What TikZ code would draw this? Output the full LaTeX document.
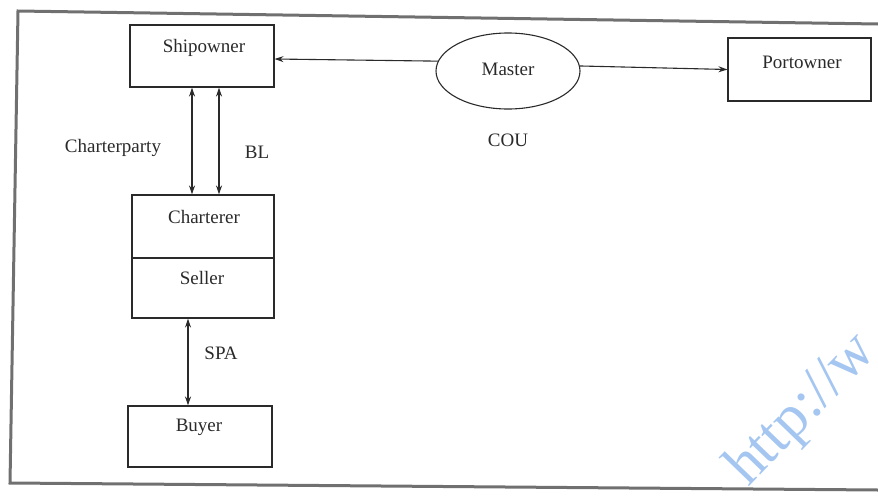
\documentclass[tikz,border=0pt]{standalone}
\usepackage{fontspec}
\setmainfont{Liberation Serif}
\usetikzlibrary{arrows.meta,shapes.geometric,calc}
\definecolor{ink}{HTML}{2A2A2A}
\definecolor{framegray}{HTML}{707070}
\definecolor{wmblue}{HTML}{A4C6F0}
\tikzset{
  box/.style={draw=ink, line width=1.1pt, inner sep=0pt},
  txt/.style={text=ink, font=\fontsize{19}{22}\selectfont, inner sep=0pt},
  tip/.style={-{Stealth[length=9pt,width=6pt]}},
  dbl/.style={{Stealth[length=9pt,width=6pt]}-{Stealth[length=9pt,width=6pt]}},
  conn/.style={draw=ink, line width=1.1pt}
}
\begin{document}
\begin{tikzpicture}[x=1pt,y=-1pt]
\useasboundingbox (0,0) rectangle (878,498);
% outer frame (open at right, cut by the page edge)
\draw[framegray, line width=3pt, line join=miter] (878,24) -- (18,11) -- (10,483) -- (878,490);

% boxes
\node[box, minimum width=144pt, minimum height=62pt] (ship) at (202,56) {};
\node[box, minimum width=143pt, minimum height=63pt] (port) at (799.5,69.5) {};
\node[box, minimum width=142pt, minimum height=63pt] (charterer) at (203,226.5) {};
\node[box, minimum width=142pt, minimum height=60pt] (seller) at (203,288) {};
\node[box, minimum width=144pt, minimum height=61pt] (buyer) at (200,436.5) {};
\node[box, ellipse, minimum width=144pt, minimum height=76pt] (master) at (508,71) {};

% texts
\node[txt] (tship) at (204,48) {Shipowner};
\node[txt] (tport) at (802,62) {Portowner};
\node[txt] (tmaster) at (508,69) {Master};
\node[txt] (tcharterer) at (204,217) {Charterer};
\node[txt] (tseller) at (202,278) {Seller};
\node[txt] (tbuyer) at (199,427) {Buyer};
\node[txt] (lcp) at (113,148) {Charterparty};
\node[txt] (lbl) at (257,152) {BL};
\node[txt] (lcou) at (508,140) {COU};
\node[txt] (lspa) at (221,353) {SPA};

% connectors
\coordinate (xa) at (192,0);
\coordinate (xb) at (219,0);
\coordinate (xc) at (188,0);
\draw[conn, tip] (master.172) -- ([yshift=-3pt]ship.east);
\draw[conn, tip] (master.4) -- (port.west);
\draw[conn, dbl] (ship.south -| xa) -- (charterer.north -| xa);
\draw[conn, dbl] (ship.south -| xb) -- (charterer.north -| xb);
\draw[conn, dbl] (seller.south -| xc) -- (buyer.north -| xc);

% watermark
\begin{scope}
\clip (0,0) rectangle (878,498);
\node[text=wmblue, font=\fontsize{60}{66}\selectfont, rotate=46, anchor=base west, inner sep=0pt] (wm) at (748,488) {http://w};
\end{scope}
\end{tikzpicture}
\end{document}
